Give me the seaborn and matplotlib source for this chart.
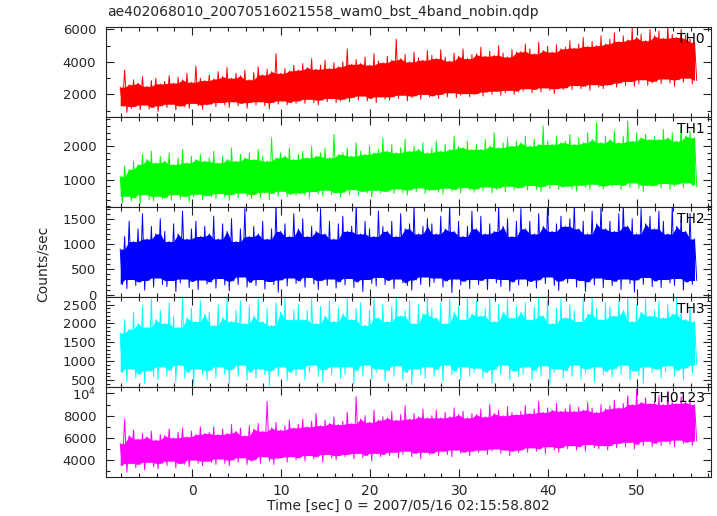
import numpy as np
import pandas as pd
import matplotlib
matplotlib.use("Agg")
import matplotlib.pyplot as plt
import seaborn as sns
from matplotlib.ticker import MultipleLocator, FuncFormatter

# ============================================================
# DATA (count-rate envelope, 0.5 s steps)
# ============================================================
title = "ae402068010_20070516021558_wam0_bst_4band_nobin.qdp"
bands = ["TH0", "TH1", "TH2", "TH3", "TH0123"]
band_colors = ["#ff0000", "#00ff00", "#0000ff", "#00ffff", "#ff00ff"]
t_start, t_stop = -8.1, 56.7

th0_high = [2450, 3500, 2600, 2900, 2700, 3100, 2500, 2850, 3000, 2650,
            2800, 3150, 2700, 3050, 2900, 3300, 2750, 3750, 3000, 2850,
            3200, 2950, 3400, 3100, 3650, 3000, 3300, 3150, 3500, 2900,
            3350, 3700, 3200, 3550, 3400, 4500, 3300, 3600, 3450, 3800,
            3500, 3900, 3650, 4200, 3550, 3800, 4100, 3600, 3950, 3700,
            4000, 4800, 3850, 4150, 3900, 4300, 3800, 4500, 4050, 3950,
            4350, 4100, 5400, 4200, 4450, 4000, 4600, 4250, 4100, 4700,
            4400, 4200, 4750, 4300, 4050, 4550, 4350, 4800, 4200, 4450,
            4500, 4900, 4350, 4650, 4400, 5000, 4550, 4300, 4750, 4600,
            4650, 5100, 4800, 4500, 5200, 4700, 4950, 4600, 5050, 4800,
            4900, 5300, 4850, 5100, 5500, 4950, 5250, 5000, 5600, 5100,
            5400, 5800, 5250, 5600, 5350, 6100, 5500, 5700, 5300, 6000,
            5600, 5900, 5450, 6200, 5700, 5500, 6000, 5650, 5400, 5200]
th0_low = [1300, 900, 1150, 1250, 1050, 1350, 1100, 1200, 950, 1300,
           1200, 1400, 1050, 1300, 1250, 1150, 1450, 1300, 1100, 1350,
           1400, 1250, 1500, 1350, 1200, 1550, 1300, 1450, 1150, 1500,
           1350, 1550, 1300, 1100, 1500, 1400, 1600, 1350, 1500, 1450,
           1600, 1450, 1700, 1500, 1350, 1650, 1550, 1750, 1500, 1600,
           1700, 1550, 1800, 1650, 1900, 1600, 1750, 1500, 1850, 1700,
           1650, 1850, 1750, 1950, 1600, 1800, 1900, 1700, 2000, 1850,
           1900, 1750, 2000, 1850, 2100, 1800, 1950, 2050, 1850, 2000,
           2050, 1900, 2150, 2000, 2200, 1950, 2100, 2250, 2000, 2150,
           2200, 2350, 2100, 2300, 2150, 2400, 2250, 2050, 2350, 2300,
           2400, 2300, 2550, 2350, 2500, 2250, 2600, 2450, 2350, 2550,
           2600, 2450, 2700, 2550, 2800, 2500, 2650, 2900, 2550, 2700,
           2800, 2650, 2950, 2700, 2500, 2900, 2750, 3000, 2650, 2850]

th1_high = [1100, 1400, 1300, 1550, 1450, 1750, 1600, 1850, 1500, 1700,
            1550, 1800, 1450, 1650, 1900, 1500, 1700, 1600, 1750, 1550,
            1650, 1850, 1500, 1700, 1600, 1950, 1550, 1750, 1650, 1800,
            1600, 1900, 1700, 1550, 2250, 1650, 1800, 1700, 1950, 1600,
            1750, 1850, 1650, 2000, 1700, 1800, 1950, 1650, 2350, 1750,
            1800, 1950, 1700, 2100, 1850, 1750, 2000, 1800, 1900, 2250,
            1850, 2050, 1800, 1950, 2200, 1850, 2000, 1900, 2100, 1800,
            1950, 2150, 1850, 2050, 1900, 2300, 2000, 1950, 2150, 1900,
            2050, 1900, 2200, 2000, 2400, 1950, 2100, 2250, 2000, 2150,
            2100, 2300, 2000, 2200, 2050, 2600, 2150, 2050, 2300, 2100,
            2150, 2350, 2050, 2250, 2100, 2400, 2200, 2700, 2100, 2300,
            2200, 2450, 2100, 2300, 2750, 2150, 2400, 2250, 2350, 2200,
            2300, 2200, 2500, 2250, 2400, 2150, 2600, 2300, 2450, 2250]
th1_low = [300, 500, 350, 450, 280, 550, 400, 350, 500, 420,
           450, 380, 550, 420, 500, 330, 480, 560, 400, 520,
           500, 420, 580, 470, 380, 550, 450, 600, 500, 430,
           550, 470, 620, 400, 580, 500, 650, 480, 560, 520,
           600, 530, 450, 640, 570, 500, 680, 550, 610, 480,
           620, 560, 700, 520, 650, 600, 480, 680, 590, 640,
           650, 580, 720, 600, 540, 690, 630, 750, 580, 670,
           700, 620, 560, 740, 650, 700, 600, 760, 680, 620,
           720, 660, 780, 600, 700, 750, 640, 800, 690, 730,
           760, 680, 820, 700, 640, 790, 730, 850, 700, 770,
           800, 720, 650, 830, 760, 700, 860, 780, 720, 810,
           780, 850, 700, 820, 760, 900, 740, 640, 830, 790,
           820, 750, 880, 700, 800, 860, 760, 900, 820, 780]

th2_high = [900, 1150, 1450, 1050, 1300, 1600, 1100, 1350, 1200, 1500,
            1250, 1050, 1400, 1200, 1650, 1100, 1300, 1450, 1150, 1350,
            1200, 1550, 1100, 1400, 1250, 1500, 1050, 1300, 1700, 1150,
            1350, 1200, 1450, 1100, 1300, 1800, 1250, 1400, 1150, 1600,
            1300, 1500, 1150, 1350, 1250, 1700, 1200, 1450, 1100, 1400,
            1550, 1250, 1350, 1800, 1200, 1450, 1300, 1150, 1650, 1350,
            1250, 1450, 1150, 1600, 1300, 1400, 1750, 1200, 1350, 1500,
            1400, 1200, 1550, 1300, 1800, 1250, 1450, 1150, 1350, 1650,
            1300, 1550, 1200, 1400, 1250, 1750, 1350, 1500, 1150, 1450,
            1700, 1300, 1450, 1200, 1600, 1350, 1800, 1250, 1400, 1550,
            1350, 1500, 1800, 1300, 1450, 1200, 1650, 1400, 1750, 1300,
            1450, 1250, 1600, 1800, 1350, 1500, 1200, 1700, 1400, 1550,
            1300, 1650, 1450, 1200, 1750, 1350, 1550, 1250, 1600, 1100]
th2_low = [200, 120, 300, 180, 250, 90, 280, 150, 330, 200,
           160, 280, 60, 230, 310, 140, 260, 100, 290, 210,
           250, 130, 320, 190, 80, 270, 200, 350, 150, 240,
           180, 300, 110, 260, 200, 50, 290, 170, 330, 220,
           270, 150, 340, 210, 100, 280, 180, 310, 130, 250,
           190, 320, 140, 250, 60, 300, 220, 170, 340, 200,
           280, 120, 310, 230, 180, 90, 290, 200, 350, 160,
           240, 330, 150, 270, 40, 310, 190, 260, 120, 300,
           200, 280, 100, 320, 230, 160, 300, 70, 250, 190,
           310, 170, 260, 130, 290, 220, 350, 180, 80, 270,
           230, 320, 150, 280, 60, 250, 190, 330, 140, 300,
           180, 260, 100, 310, 220, 50, 290, 200, 340, 160,
           270, 140, 300, 230, 180, 320, 90, 250, 200, 280]

th3_high = [1750, 2100, 1850, 2300, 2000, 2450, 1900, 2650, 2100, 2350,
            2000, 2550, 2200, 1900, 2700, 2150, 2400, 2050, 2600, 2250,
            2300, 1950, 2500, 2150, 2700, 2050, 2350, 2600, 2000, 2450,
            2200, 2650, 2050, 2400, 1950, 2550, 2300, 2700, 2100, 2350,
            2500, 2100, 2350, 2650, 2000, 2450, 2200, 2600, 2050, 2400,
            2250, 2700, 2100, 2400, 2550, 1950, 2350, 2650, 2150, 2500,
            2050, 2450, 2700, 2200, 2350, 2600, 2000, 2500, 2250, 2700,
            2400, 2150, 2550, 2000, 2650, 2300, 2450, 2100, 2700, 2250,
            2600, 2200, 2400, 2700, 2050, 2500, 2300, 2650, 2150, 2450,
            2300, 2550, 2100, 2450, 2700, 2200, 2600, 2000, 2400, 2650,
            2150, 2500, 2350, 2050, 2650, 2250, 2700, 2400, 2100, 2550,
            2450, 2200, 2600, 2350, 2700, 2050, 2500, 2300, 2650, 2200,
            2350, 2600, 2150, 2500, 2250, 2700, 2400, 2100, 2450, 2050]
th3_low = [700, 450, 800, 550, 650, 400, 750, 600, 500, 850,
           600, 750, 450, 900, 550, 700, 380, 800, 650, 500,
           750, 550, 850, 650, 420, 780, 600, 900, 500, 700,
           550, 800, 650, 350, 750, 600, 850, 480, 700, 620,
           800, 500, 700, 900, 600, 450, 780, 650, 850, 550,
           650, 850, 400, 750, 600, 900, 520, 700, 800, 480,
           750, 600, 880, 500, 700, 380, 800, 650, 550, 850,
           600, 780, 450, 900, 650, 720, 500, 850, 600, 700,
           820, 550, 700, 420, 780, 650, 900, 500, 750, 600,
           650, 850, 500, 750, 600, 880, 380, 700, 800, 550,
           750, 600, 900, 520, 700, 800, 450, 850, 650, 720,
           580, 800, 650, 900, 500, 750, 620, 400, 850, 700,
           800, 550, 720, 880, 600, 750, 500, 820, 680, 900]

th0123_high = [5500, 7700, 6200, 6700, 5900, 6400, 6100, 6600, 5800, 6300,
               6200, 6800, 6000, 6500, 6900, 6100, 6600, 6300, 7000, 6400,
               6500, 7000, 6300, 6800, 6400, 7200, 6600, 6900, 6200, 7100,
               6800, 7300, 6600, 9300, 6900, 7400, 6700, 7100, 7600, 6900,
               7200, 7700, 7000, 7500, 8200, 7100, 7600, 7300, 7900, 7200,
               7500, 8300, 7300, 9700, 7700, 8000, 7400, 8500, 7600, 7900,
               7800, 8400, 7600, 8100, 8900, 7700, 8200, 7900, 8600, 7800,
               8000, 8500, 7800, 8300, 7900, 8700, 8100, 8400, 7800, 8200,
               8100, 8600, 7900, 9000, 8200, 8500, 8000, 8800, 8300, 8100,
               8400, 8900, 8200, 8600, 9300, 8300, 8700, 8500, 9100, 8400,
               8600, 9000, 8400, 8800, 8500, 9200, 8700, 8300, 9000, 8600,
               8900, 9400, 8700, 9100, 9800, 9000, 10400, 9200, 9600, 9100,
               9300, 9800, 9000, 10200, 9400, 9100, 9700, 9200, 9500, 9000]
th0123_low = [3500, 2900, 3700, 3300, 3600, 3100, 3800, 3400, 3200, 3700,
              3500, 3900, 3300, 3700, 3600, 3400, 4000, 3700, 3500, 3900,
              3800, 3600, 4100, 3700, 3500, 4000, 3800, 4200, 3600, 3900,
              4000, 3700, 4300, 3900, 3600, 4100, 4200, 3800, 4300, 4000,
              4200, 3900, 4400, 4100, 4300, 3800, 4500, 4200, 4000, 4400,
              4300, 4500, 4100, 4600, 4200, 4400, 3900, 4600, 4300, 4500,
              4400, 4700, 4200, 4500, 4800, 4300, 4600, 4100, 4700, 4500,
              4600, 4400, 4800, 4500, 4300, 4900, 4600, 4700, 4400, 4800,
              4700, 4900, 4500, 4800, 5000, 4600, 4900, 4400, 4800, 4700,
              4900, 4700, 5100, 4800, 5000, 4600, 5200, 4900, 4700, 5100,
              5000, 5300, 4900, 5200, 4800, 5400, 5100, 5000, 5300, 4900,
              5300, 5100, 5500, 5200, 5600, 5000, 5400, 5300, 5700, 5200,
              5500, 5300, 5700, 5400, 5200, 5800, 5500, 5600, 5300, 5700]

highs = [th0_high, th1_high, th2_high, th3_high, th0123_high]
lows = [th0_low, th1_low, th2_low, th3_low, th0123_low]

# axis settings per panel: (ylim, major, minor)
ylims = [(600, 6120), (177, 2862), (-45, 1730), (324, 2700), (2500, 10600)]
y_major = [2000, 1000, 500, 500, 2000]
y_minor = [1000, 200, 100, 100, 1000]

# ============================================================
# STYLE
# ============================================================
sns.set_style("ticks")
plt.rcParams["font.family"] = ["DejaVu Sans"]
plt.rcParams["font.size"] = 10
plt.rcParams["axes.linewidth"] = 0.8
plt.rcParams["axes.edgecolor"] = "#222222"

fig = plt.figure(figsize=(7.17, 5.16), dpi=100)
gs = fig.add_gridspec(5, 1, left=0.1478, right=0.9916, top=0.947, bottom=0.0762, hspace=0)
axes = [fig.add_subplot(gs[i]) for i in range(5)]


def fmt_y(v, pos):
    if v == 10000:
        return r"$10^4$"
    return f"{int(v)}"


for i, ax in enumerate(axes):
    hi = pd.Series(highs[i], dtype=float)
    lo = pd.Series(lows[i], dtype=float)
    vals = np.empty(2 * len(hi))
    vals[0::2] = hi
    vals[1::2] = lo
    t = np.linspace(t_start, t_stop, len(vals))
    df = pd.DataFrame({"time": t, "rate": vals})

    # dense core of the light curve
    core_top = hi.rolling(3, center=True, min_periods=1).min()
    core_bot = lo.rolling(3, center=True, min_periods=1).max()
    ax.fill_between(t[0::2], core_bot, core_top, color=band_colors[i], lw=0)

    sns.lineplot(data=df, x="time", y="rate", ax=ax, color=band_colors[i],
                 linewidth=0.7, sort=False, estimator=None)
    ax.set_xlim(-9.7, 58.3)
    ax.set_ylim(*ylims[i])
    ax.set_xlabel("")
    ax.set_ylabel("")
    ax.xaxis.set_major_locator(MultipleLocator(10))
    ax.xaxis.set_minor_locator(MultipleLocator(2))
    ax.yaxis.set_major_locator(MultipleLocator(y_major[i]))
    ax.yaxis.set_minor_locator(MultipleLocator(y_minor[i]))
    ax.yaxis.set_major_formatter(FuncFormatter(fmt_y))
    ax.tick_params(which="both", direction="in", top=True, right=True,
                   width=0.8, color="#222222")
    ax.tick_params(which="major", length=5.5)
    ax.tick_params(which="minor", length=2.8)
    ax.tick_params(axis="y", pad=7, labelsize=9.5)
    ax.tick_params(axis="x", pad=5, labelsize=10)
    if i < 4:
        ax.tick_params(axis="x", labelbottom=False)
    ax.text(0.99, 0.87, bands[i], transform=ax.transAxes, ha="right", va="center",
            fontsize=10, color="black")

fig.text(0.149, 0.976, title, ha="left", va="center", fontsize=10)
fig.text(0.059, 0.488, "Counts/sec", rotation=90, ha="center", va="center", fontsize=10)
fig.text(0.57, 0.019, "Time [sec] 0 = 2007/05/16 02:15:58.802", ha="center", va="center",
         fontsize=10)

plt.savefig("out.png", dpi=100)
